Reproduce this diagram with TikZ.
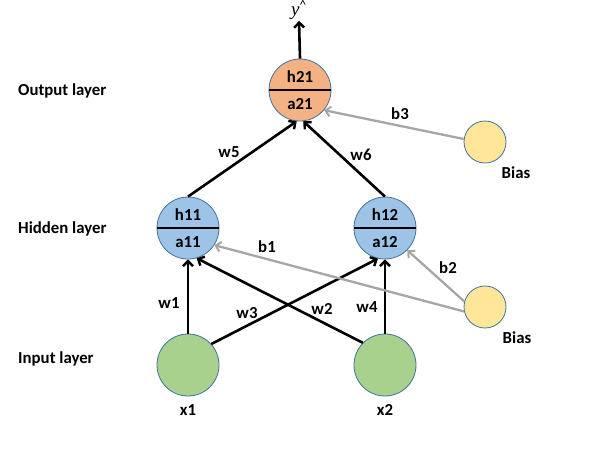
\documentclass[tikz,border=0pt]{standalone}
\usepackage{fontspec}
\setmainfont{Carlito}
\newfontfamily\yfont{Liberation Serif}
\usepackage{tikz}
\usetikzlibrary{arrows.meta}
\definecolor{rim}{HTML}{41719C}
\definecolor{outfill}{HTML}{F4B183}
\definecolor{hidfill}{HTML}{9DC3E6}
\definecolor{infill}{HTML}{A9D18E}
\definecolor{biasfill}{HTML}{FFE699}
\definecolor{biasgray}{HTML}{A6A6A6}

\begin{document}
\begin{tikzpicture}[x=1pt,y=-1pt,
  txt/.style={font=\fontsize{16.8}{19}\selectfont\bfseries, inner sep=1pt},
  neuron/.style={circle, draw=rim, line width=0.8pt, minimum size=62pt, inner sep=0pt},
  biasnode/.style={circle, draw=rim, fill=biasfill, line width=0.8pt, minimum size=42pt, inner sep=0pt},
  splitline/.style={line width=2.8pt},
  wt/.style={draw=black, line width=2.6pt, -{Straight Barb[length=5pt,width=10pt,line width=2.4pt]}},
  bs/.style={draw=biasgray, line width=2.3pt, -{Straight Barb[length=5pt,width=10pt,line width=2pt]}}]
\useasboundingbox (0,0) rectangle (596,453);

\node[txt,anchor=west] (lout) at (17,91) {Output layer};
\node[txt,anchor=west] (lhid) at (17,229) {Hidden layer};
\node[txt,anchor=west] (lin) at (17,359) {Input layer};

\node[neuron, fill=outfill] (h21) at (300,90) {};
\node[neuron, fill=hidfill] (h11) at (188,228) {};
\node[neuron, fill=hidfill] (h12) at (385,228) {};
\node[neuron, fill=infill] (x1) at (188,365) {};
\node[neuron, fill=infill] (x2) at (385,365) {};
\node[biasnode] (bias1) at (485,142) {};
\node[biasnode] (bias2) at (485,307) {};

\draw[splitline] (h21.west) -- (h21.east);
\draw[splitline] (h11.west) -- (h11.east);
\draw[splitline] (h12.west) -- (h12.east);
\node[txt] (th21) at (300,77) {h21};
\node[txt] (ta21) at (300,104) {a21};
\node[txt] (th11) at (188,215) {h11};
\node[txt] (ta11) at (188,242) {a11};
\node[txt] (th12) at (385,215) {h12};
\node[txt] (ta12) at (385,242) {a12};

\node[txt] (tx1) at (188,410) {x1};
\node[txt] (tx2) at (385,410) {x2};
\node[txt] (tb1) at (516,173) {Bias};
\node[txt] (tb2) at (517,338) {Bias};
\node[inner sep=1pt, font=\fontsize{19}{21}\selectfont] (yhat) at (299,10) {{\yfont\itshape y}\textsuperscript{\^{}}};

\draw[wt] (h21.north) -- (yhat.south);
\draw[wt] (h11.north) -- (h21.-96);
\draw[wt] (h12.north) -- (h21.-84);
\draw[wt] (x1.north) -- (h11.south);
\draw[wt] (x1.42) -- (h12.-103);
\draw[wt] (x2.135) -- (h11.-74);
\draw[wt] (x2.north) -- (h12.south);
\draw[bs] (bias1.172) -- (h21.-40);
\draw[bs] (bias2.-168) -- (h11.-33);
\draw[bs] (bias2.165) -- (h12.-45);

\node[txt] (lw5) at (229,152) {w5};
\node[txt] (lw6) at (361,155) {w6};
\node[txt] (lb3) at (400,114) {b3};
\node[txt] (lw1) at (169,303) {w1};
\node[txt] (lw3) at (247,313) {w3};
\node[txt] (lw2) at (322,309) {w2};
\node[txt] (lw4) at (367,307) {w4};
\node[txt] (lb1) at (267,247) {b1};
\node[txt] (lb2) at (448,268) {b2};
\end{tikzpicture}
\end{document}
